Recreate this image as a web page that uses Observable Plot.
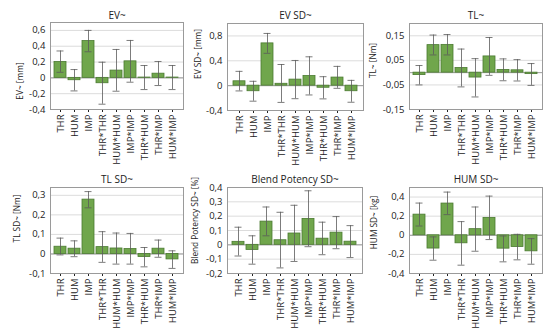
<!DOCTYPE html>
<html>
<head>
<meta charset="utf-8">
<script src="https://cdn.jsdelivr.net/npm/d3@7"></script>
<script src="https://cdn.jsdelivr.net/npm/@observablehq/plot@0.6"></script>
<style>
  html, body { margin: 0; padding: 0; background: #fff; }
  #c { position: relative; width: 550px; height: 335px; overflow: hidden; }
  #c > div { position: absolute; }
  #c svg { overflow: visible; }
</style>
</head>
<body>
<div id="c"></div>
<script>
const categories = ["THR", "HUM", "IMP", "THR*THR", "HUM*HUM", "IMP*IMP", "THR*HUM", "THR*IMP", "HUM*IMP"];

// EV~ [mm]
const evVal = [0.20, -0.03, 0.465, -0.068, 0.092, 0.209, 0.004, 0.053, 0.004];
const evLo  = [0.07, -0.165, 0.33, -0.333, -0.169, -0.055, -0.148, -0.097, -0.148];
const evHi  = [0.34, 0.105, 0.60, 0.198, 0.359, 0.473, 0.156, 0.207, 0.156];
const evTicks = [-0.4, -0.2, 0, 0.2, 0.4, 0.6];

// EV SD~ [mm]
const evsdVal = [0.07, -0.09, 0.68, 0.03, 0.097, 0.155, -0.034, 0.13, -0.09];
const evsdLo  = [-0.085, -0.25, 0.52, -0.27, -0.21, -0.15, -0.213, -0.043, -0.267];
const evsdHi  = [0.23, 0.07, 0.84, 0.34, 0.405, 0.464, 0.144, 0.31, 0.085];
const evsdTicks = [-0.4, 0, 0.4, 0.8];

// TL~ [Nm]
const tlVal = [-0.01, 0.112, 0.113, 0.019, -0.02, 0.066, 0.011, 0.0095, -0.006];
const tlLo  = [-0.05, 0.072, 0.072, -0.058, -0.099, -0.011, -0.033, -0.034, -0.052];
const tlHi  = [0.029, 0.153, 0.155, 0.096, 0.057, 0.143, 0.056, 0.053, 0.037];
const tlTicks = [-0.15, -0.05, 0.05, 0.15];

// TL SD~ [Nm]
const tlsdVal = [0.037, 0.027, 0.278, 0.035, 0.028, 0.025, -0.016, 0.027, -0.028];
const tlsdLo  = [-0.005, -0.014, 0.236, -0.043, -0.052, -0.052, -0.066, -0.017, -0.074];
const tlsdHi  = [0.081, 0.067, 0.319, 0.114, 0.107, 0.105, 0.033, 0.071, 0.016];
const tlsdTicks = [-0.1, 0, 0.1, 0.2, 0.3];

// Blend Potency SD~ [%]
const bpVal = [0.021, -0.036, 0.162, 0.032, 0.079, 0.181, 0.043, 0.085, 0.022];
const bpLo  = [-0.078, -0.135, 0.063, -0.161, -0.116, -0.013, -0.069, -0.027, -0.089];
const bpHi  = [0.123, 0.063, 0.264, 0.227, 0.276, 0.377, 0.158, 0.197, 0.134];
const bpTicks = [-0.2, -0.1, 0, 0.1, 0.2, 0.3, 0.4];

// HUM SD~ [kg]
const hsVal = [0.216, -0.139, 0.332, -0.084, 0.064, 0.182, -0.14, -0.123, -0.168];
const hsLo  = [0.097, -0.261, 0.216, -0.313, -0.167, -0.045, -0.278, -0.257, -0.303];
const hsHi  = [0.337, -0.017, 0.452, 0.143, 0.296, 0.41, -0.007, 0.010, -0.035];
const hsTicks = [-0.4, -0.2, 0, 0.2, 0.4];

const fmt = d => d === 0 ? "0" : String(+d.toFixed(2)).replace(".", ",");

function panel(p) {
  const rows = categories.map((c, i) => ({c, v: p.val[i], lo: p.lo[i], hi: p.hi[i]}));
  const err = "#5a5a5a";
  const svg = Plot.plot({
    width: p.w, height: p.h,
    marginLeft: p.mL, marginRight: p.mR, marginTop: p.mT, marginBottom: p.mB,
    style: {background: "transparent", fontFamily: "'Open Sans', sans-serif", fontSize: "9.5px", color: "#222", overflow: "visible"},
    x: {domain: categories, padding: 0.12, tickRotate: -90, label: null, tickSize: 3, tickPadding: 2},
    y: {domain: p.domain, ticks: p.ticks, tickFormat: fmt, label: null, tickSize: 0, tickPadding: 5},
    marks: [
      Plot.ruleY(p.ticks, {stroke: "#dcdcdc", strokeWidth: 1}),
      Plot.ruleY([0], {stroke: "#9a9a9a", strokeWidth: 1}),
      Plot.barY(rows, {x: "c", y: "v", fill: "#70a64c", stroke: "#4a7a30", strokeWidth: 0.8}),
      Plot.ruleX(rows, {x: "c", y1: "lo", y2: "hi", stroke: err, strokeWidth: 0.8}),
      Plot.tickY(rows, {x: "c", y: "lo", stroke: err, strokeWidth: 0.8, insetLeft: 2.5, insetRight: 2.5}),
      Plot.tickY(rows, {x: "c", y: "hi", stroke: err, strokeWidth: 0.8, insetLeft: 2.5, insetRight: 2.5}),
      Plot.frame({stroke: "#9a9a9a"}),
      Plot.text([p.title], {text: d => d, frameAnchor: "top", dy: p.tDy, fontSize: 10, fill: "#222"}),
      Plot.text([p.ylabel], {text: d => d, frameAnchor: "left", textAnchor: "middle", rotate: -90, dx: p.lDx, dy: p.lDy, fontSize: 8.3, fill: "#222"})
    ]
  });
  const div = document.createElement("div");
  div.style.left = p.left + "px";
  div.style.top = p.top + "px";
  div.appendChild(svg);
  document.getElementById("c").appendChild(div);
}

// top row
panel({title: "EV~", ylabel: "EV~ [mm]", val: evVal, lo: evLo, hi: evHi, domain: [-0.4, 0.7], ticks: evTicks,
  left: 0, top: 0, w: 185, h: 170, mL: 50, mR: 2, mT: 22, mB: 61, tDy: -11, lDx: -30, lDy: 15});
panel({title: "EV SD~", ylabel: "EV SD~ [mm]", val: evsdVal, lo: evsdLo, hi: evsdHi, domain: [-0.4, 1.0], ticks: evsdTicks,
  left: 185, top: 0, w: 180, h: 170, mL: 42, mR: 2, mT: 23, mB: 60, tDy: -12, lDx: -29, lDy: -13});
panel({title: "TL~", ylabel: "TL~ [Nm]", val: tlVal, lo: tlLo, hi: tlHi, domain: [-0.15, 0.2], ticks: tlTicks,
  left: 365, top: 0, w: 185, h: 170, mL: 44, mR: 8, mT: 23, mB: 61, tDy: -12, lDx: -36, lDy: -6});
// bottom row
panel({title: "TL SD~", ylabel: "TL SD~ [Nm]", val: tlsdVal, lo: tlsdLo, hi: tlsdHi, domain: [-0.1, 0.34], ticks: tlsdTicks,
  left: 0, top: 165, w: 185, h: 170, mL: 50, mR: 2, mT: 22, mB: 62, tDy: -12, lDx: -33, lDy: -12});
panel({title: "Blend Potency SD~", ylabel: "Blend Potency SD~ [%]", val: bpVal, lo: bpLo, hi: bpHi, domain: [-0.2, 0.4], ticks: bpTicks,
  left: 185, top: 165, w: 180, h: 170, mL: 42, mR: 3, mT: 22, mB: 62, tDy: -12, lDx: -32, lDy: -10});
panel({title: "HUM SD~", ylabel: "HUM SD~ [kg]", val: hsVal, lo: hsLo, hi: hsHi, domain: [-0.4, 0.5], ticks: hsTicks,
  left: 365, top: 165, w: 185, h: 170, mL: 44, mR: 8, mT: 22, mB: 62, tDy: -12, lDx: -35, lDy: -8});
</script>
</body>
</html>
